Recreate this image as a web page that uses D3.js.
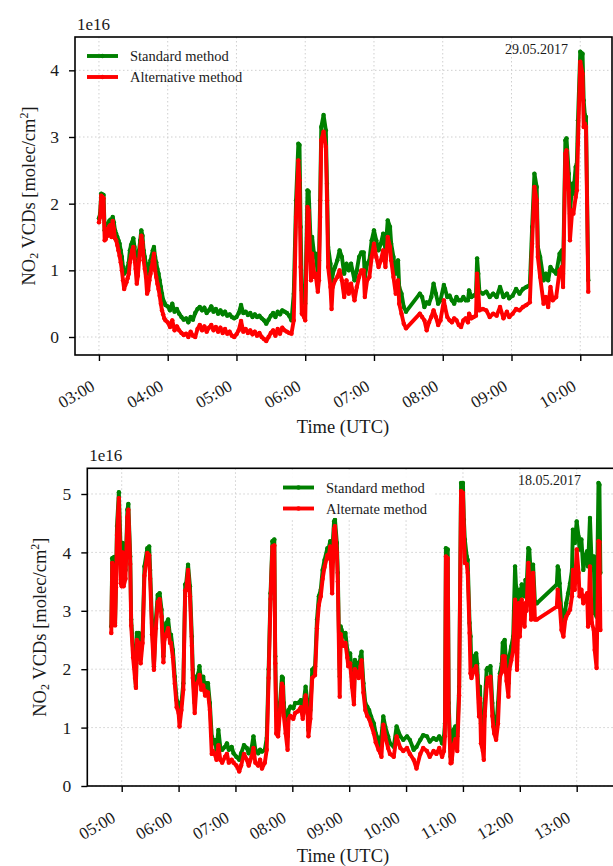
<!DOCTYPE html>
<html>
<head>
<meta charset="utf-8">
<script src="https://cdn.jsdelivr.net/npm/d3@7"></script>
<style>
  html, body { margin: 0; padding: 0; background: #fff; }
  svg { display: block; font-family: "Liberation Serif", "Times New Roman", serif; }
</style>
</head>
<body>
<svg id="chart" width="613" height="866"></svg>
<script>
// ---------- 29.05.2017 : NO2 VCDs (units of 1e16 molec/cm^2) ----------
const topTimes = [
  "03:00","03:01","03:02","03:03","03:04","03:05","03:06","03:07","03:08","03:09",
  "03:10","03:11","03:12","03:13","03:14","03:15","03:16","03:17","03:18","03:19",
  "03:20","03:21","03:22","03:23","03:24","03:25","03:26","03:27","03:28","03:29",
  "03:30","03:31","03:32","03:33","03:34","03:35","03:36","03:37","03:38","03:39",
  "03:40","03:41","03:42","03:43","03:44","03:45","03:46","03:47","03:48","03:49",
  "03:50","03:51","03:52","03:53","03:54","03:55","03:56","03:57","03:58",
  "04:00","04:02","04:04","04:06","04:08","04:10","04:12","04:14","04:16","04:18",
  "04:20","04:22","04:24","04:26","04:28","04:30","04:32","04:34","04:36","04:38",
  "04:40","04:42","04:44","04:46","04:48","04:50","04:52","04:54","04:56","04:58",
  "05:00","05:02","05:04","05:06","05:08","05:10","05:12","05:14","05:16","05:18",
  "05:20","05:22","05:24","05:26","05:28","05:30","05:32","05:34","05:36","05:38",
  "05:40","05:42","05:44","05:46","05:48","05:50","05:52","05:54","05:55","05:56",
  "05:57","05:59","06:00","06:02","06:03","06:05","06:06","06:08","06:09","06:11",
  "06:12","06:13","06:14","06:16","06:18","06:19","06:20","06:22","06:23","06:24",
  "06:26","06:28","06:30","06:32","06:34","06:36","06:38","06:40","06:43","06:45",
  "06:47","06:49","06:51","06:52","06:54","06:56","06:58","07:00","07:02","07:04",
  "07:06","07:08","07:10","07:12","07:14","07:15","07:17","07:19","07:21","07:22",
  "07:24","07:26","07:28","07:40","07:42","07:44","07:46","07:48","07:50","07:52",
  "07:54","07:56","07:58","08:01","08:02","08:04","08:06","08:08","08:10","08:12",
  "08:14","08:16","08:18","08:20","08:22","08:23","08:25","08:27","08:29","08:30",
  "08:31","08:32","08:35","08:38","08:41","08:44","08:47","08:50","08:53","08:56",
  "08:58","09:01","09:04","09:07","09:10","09:13","09:16","09:18","09:20","09:22",
  "09:23","09:25","09:28","09:30","09:32","09:34","09:36","09:39","09:42","09:44",
  "09:45","09:47","09:48","09:50","09:51","09:53","09:54","09:56","09:57","09:58",
  "10:00","10:02","10:03","10:04","10:05","10:07"
];
const topStandard = [
  1.78,1.85,2.15,2.14,2.13,1.60,1.55,1.70,1.62,1.74,
  1.76,1.65,1.80,1.72,1.60,1.55,1.50,1.45,1.40,1.30,
  1.20,1.05,0.95,1.00,0.98,1.05,1.12,1.30,1.38,1.42,
  1.48,1.35,1.22,1.05,1.12,1.30,1.45,1.60,1.52,1.30,
  1.20,1.10,0.98,0.95,1.08,1.15,1.22,1.30,1.35,1.20,
  1.12,1.02,0.95,0.85,0.75,0.65,0.56,0.52,0.48,
  0.46,0.40,0.50,0.38,0.42,0.35,0.30,0.26,0.28,0.22,
  0.30,0.26,0.36,0.42,0.45,0.40,0.44,0.36,0.40,0.46,
  0.38,0.42,0.35,0.40,0.34,0.38,0.32,0.34,0.30,0.28,
  0.30,0.36,0.48,0.36,0.38,0.33,0.36,0.30,0.34,0.30,
  0.32,0.28,0.25,0.20,0.26,0.32,0.36,0.30,0.38,0.34,
  0.40,0.38,0.36,0.32,0.25,0.65,2.05,2.90,2.88,1.65,
  0.70,0.55,0.50,2.20,2.18,1.30,1.50,1.20,1.25,0.95,
  1.15,2.05,3.15,3.33,3.10,2.30,1.35,1.10,0.75,0.95,
  1.05,1.15,1.30,1.20,0.95,1.10,1.00,1.10,0.85,1.00,
  1.20,1.27,1.27,0.90,1.10,1.15,1.45,1.60,1.45,1.30,
  1.40,1.55,1.30,1.75,1.65,1.40,1.20,0.95,1.15,0.75,
  0.65,0.45,0.38,0.65,0.60,0.45,0.52,0.50,0.60,0.80,
  0.65,0.50,0.55,0.78,0.72,0.60,0.62,0.55,0.50,0.60,
  0.55,0.55,0.60,0.55,0.55,0.70,0.60,0.62,0.65,1.18,
  0.95,0.68,0.65,0.68,0.60,0.65,0.60,0.75,0.60,0.65,
  0.58,0.62,0.72,0.65,0.72,0.75,0.78,1.65,2.45,2.25,
  1.35,1.20,0.85,0.95,0.85,1.05,1.00,0.95,1.25,1.30,
  0.95,2.95,2.98,2.45,1.85,2.30,2.15,2.55,2.60,3.25,
  4.28,4.25,3.55,3.33,3.30,0.85
];
const topAlternative = [
  1.72,1.80,2.12,2.10,2.08,1.45,1.47,1.62,1.52,1.66,
  1.68,1.50,1.74,1.62,1.48,1.45,1.38,1.30,1.22,1.12,
  1.00,0.85,0.72,0.78,0.82,0.88,0.95,1.12,1.22,1.30,
  1.35,1.18,1.02,0.80,0.92,1.15,1.35,1.52,1.42,1.15,
  1.02,0.90,0.65,0.70,0.85,0.95,1.05,1.15,1.25,1.00,
  0.90,0.80,0.72,0.62,0.50,0.40,0.34,0.28,0.25,
  0.22,0.15,0.25,0.10,0.16,0.10,0.06,0.03,0.05,0.00,
  0.08,0.02,0.00,0.12,0.18,0.10,0.16,0.08,0.14,0.18,
  0.10,0.15,0.08,0.14,0.06,0.12,0.05,0.08,0.02,0.00,
  0.04,0.10,0.24,0.08,0.12,0.06,0.10,0.04,0.08,0.02,
  0.06,0.00,-0.03,-0.06,0.00,0.06,0.10,0.02,0.12,0.05,
  0.14,0.10,0.08,0.06,0.05,0.25,1.80,2.65,2.35,1.05,
  0.35,0.30,0.25,1.95,1.90,0.85,1.25,0.90,0.95,0.68,
  0.85,1.80,2.95,3.08,2.85,2.05,1.05,0.75,0.42,0.75,
  0.85,0.90,1.00,0.85,0.60,0.85,0.65,0.80,0.55,0.75,
  0.90,1.00,1.00,0.60,0.85,0.90,1.20,1.40,1.20,1.05,
  1.15,1.30,1.05,1.50,1.35,1.15,0.90,0.65,0.85,0.50,
  0.35,0.20,0.13,0.35,0.30,0.25,0.10,0.22,0.30,0.40,
  0.30,0.18,0.25,0.55,0.45,0.30,0.25,0.22,0.28,0.25,
  0.18,0.15,0.25,0.28,0.22,0.35,0.28,0.30,0.32,0.95,
  0.70,0.40,0.42,0.40,0.30,0.35,0.32,0.45,0.28,0.38,
  0.30,0.35,0.42,0.40,0.45,0.48,0.52,1.40,2.25,2.05,
  1.20,0.90,0.50,0.60,0.45,0.75,0.55,0.60,1.00,1.05,
  0.75,2.75,2.80,2.20,1.45,1.90,1.85,2.10,2.20,2.90,
  4.13,3.95,3.15,3.20,3.15,0.68
];

// ---------- 18.05.2017 : NO2 VCDs (units of 1e16 molec/cm^2) ----------
const bottomTimes = [
  "04:49","04:50","04:52","04:53","04:54","04:55","04:57","04:59","05:00","05:01",
  "05:02","05:04","05:06","05:07","05:09","05:10","05:12","05:14","05:15","05:16",
  "05:18","05:20","05:22","05:24","05:27","05:29","05:30","05:32","05:34","05:36",
  "05:38","05:40","05:42","05:44","05:45","05:47","05:49","05:51","05:52","05:54",
  "05:56","05:58","06:00","06:01","06:03","06:05","06:07","06:08","06:10","06:12",
  "06:14","06:15","06:17","06:19","06:21","06:22","06:24","06:26","06:28","06:29",
  "06:31","06:33","06:35","06:36","06:38","06:40","06:42","06:44","06:46","06:49",
  "06:51","06:53","06:56","06:58","07:01","07:04","07:06","07:09","07:12","07:14",
  "07:17","07:19","07:21","07:24","07:26","07:28","07:31","07:33","07:35","07:37",
  "07:39","07:41","07:42","07:43","07:45","07:47","07:49","07:50","07:51","07:53",
  "07:55","07:56","07:58","08:01","08:03","08:06","08:09","08:11","08:14","08:16",
  "08:17","08:19","08:21","08:24","08:26","08:28","08:30","08:32","08:34","08:37",
  "08:38","08:40","08:42","08:44","08:45","08:47","08:48","08:50","08:51","08:52",
  "08:54","08:56","08:58","08:59","09:01","09:03","09:05","09:06","09:08","09:10",
  "09:12","09:13","09:15","09:17","09:19","09:21","09:23","09:26","09:28","09:31",
  "09:33","09:34","09:36","09:38","09:41","09:43","09:47","09:50","09:54","09:57",
  "10:01","10:04","10:08","10:11","10:15","10:18","10:22","10:25","10:29","10:32",
  "10:35","10:38","10:40","10:41","10:42","10:44","10:45","10:47","10:48","10:50",
  "10:52","10:54","10:56","10:58","11:00","11:01","11:02","11:04","11:05","11:07",
  "11:08","11:09","11:11","11:12","11:14","11:15","11:17","11:18","11:19","11:21",
  "11:22","11:23","11:25","11:26","11:28","11:29","11:31","11:32","11:33","11:35",
  "11:37","11:39","11:41","11:42","11:44","11:46","11:48","11:49","11:51","11:53",
  "11:55","11:56","11:57","11:59","12:00","12:02","12:03","12:05","12:06","12:07",
  "12:09","12:10","12:12","12:13","12:14","12:16","12:18","12:39","12:40","12:41",
  "12:42","12:44","12:46","12:48","12:49","12:51","12:53","12:55","12:56","12:58",
  "13:00","13:02","13:03","13:05","13:07","13:09","13:11","13:12","13:14","13:16",
  "13:18","13:19","13:21","13:23","13:24","13:25"
];
const bottomStandard = [
  2.73,3.90,3.92,2.79,3.53,4.45,5.03,4.00,3.47,4.16,
  3.53,3.70,4.73,4.83,3.93,2.85,2.33,1.99,1.70,2.62,
  2.62,2.22,2.56,3.76,4.07,4.10,3.70,2.79,2.05,2.85,
  3.27,3.30,3.02,2.22,2.62,2.79,2.85,2.56,2.59,2.33,
  1.87,1.47,1.42,1.19,1.42,1.76,3.45,3.47,3.79,3.42,
  2.56,1.99,1.42,1.87,1.93,2.05,1.76,1.87,1.65,1.76,
  1.76,1.42,0.85,0.73,0.79,0.62,0.96,0.67,0.62,0.67,
  0.73,0.62,0.67,0.56,0.50,0.45,0.56,0.70,0.65,0.56,
  0.65,0.85,0.62,0.56,0.62,0.59,0.62,0.82,2.00,3.30,
  4.19,4.22,2.22,1.30,0.96,1.42,1.87,1.85,1.42,1.07,
  0.85,1.30,1.36,1.33,1.42,1.42,1.47,1.30,1.70,1.42,
  0.96,1.30,1.99,2.05,2.85,3.25,3.36,3.70,3.87,4.07,
  4.05,4.19,3.99,4.53,4.56,4.16,3.65,1.87,2.73,2.67,
  2.56,2.62,2.33,2.22,2.27,1.87,1.53,2.16,2.10,1.99,
  2.22,2.30,1.76,1.42,1.36,1.30,1.19,1.07,0.90,0.79,
  0.67,0.85,1.19,1.02,0.85,0.73,0.67,1.02,0.85,0.79,
  0.85,0.79,0.62,0.67,0.79,0.87,0.85,0.76,0.82,0.79,
  0.85,0.73,0.85,1.07,4.07,4.05,1.42,0.50,0.45,0.96,
  1.02,0.85,1.70,5.19,5.19,4.56,4.22,3.93,3.87,2.79,
  2.56,1.99,2.10,2.22,2.27,2.10,1.42,1.70,1.07,0.73,
  0.95,1.42,1.99,2.02,1.99,2.05,1.42,1.19,1.07,0.96,
  1.42,1.93,2.10,2.45,2.50,1.99,1.76,2.22,2.39,2.56,
  3.76,3.42,3.13,3.36,3.02,3.45,3.36,3.25,3.53,3.36,
  4.07,4.05,3.53,3.70,3.79,3.13,3.13,3.45,3.76,3.70,
  3.47,2.96,2.79,3.02,3.13,3.30,3.47,3.70,4.39,4.16,
  4.53,4.27,4.05,4.22,3.70,3.93,4.02,3.76,4.59,3.70,
  3.93,2.96,2.90,5.19,5.16,3.65
];
const bottomAlternate = [
  2.62,3.82,3.70,2.75,3.40,4.30,4.93,3.47,3.42,4.00,
  3.42,3.55,4.60,4.73,3.80,2.75,2.20,1.85,1.68,2.50,
  2.45,2.10,2.45,3.60,3.99,3.95,3.55,2.60,1.99,2.70,
  3.15,3.20,2.90,2.12,2.50,2.60,2.70,2.45,2.45,2.20,
  1.75,1.35,1.25,1.02,1.30,1.65,3.35,3.35,3.70,3.25,
  2.40,1.85,1.25,1.75,1.80,1.90,1.65,1.72,1.55,1.62,
  1.60,1.30,0.55,0.60,0.55,0.45,0.70,0.45,0.40,0.50,
  0.55,0.40,0.45,0.40,0.35,0.25,0.35,0.55,0.45,0.35,
  0.50,0.65,0.40,0.35,0.45,0.30,0.40,0.62,1.85,3.20,
  4.10,4.12,2.10,0.90,0.85,1.30,1.75,1.70,1.20,0.90,
  0.62,1.15,1.20,1.15,1.25,1.28,1.35,1.15,1.55,1.25,
  0.85,1.15,1.85,1.90,2.70,3.10,3.25,3.55,3.75,3.95,
  3.90,4.10,3.30,4.40,4.45,4.00,3.50,1.53,2.60,2.50,
  2.40,2.45,2.20,2.05,2.10,1.70,1.40,2.00,1.95,1.85,
  2.05,2.15,1.60,1.30,1.20,1.15,1.05,0.90,0.75,0.62,
  0.56,0.50,1.05,0.85,0.65,0.55,0.50,0.85,0.65,0.60,
  0.65,0.55,0.45,0.30,0.55,0.65,0.60,0.50,0.60,0.55,
  0.65,0.50,0.60,0.85,3.93,3.90,1.20,0.39,0.40,0.70,
  0.80,0.60,1.55,5.05,5.02,4.40,3.82,3.80,3.65,2.62,
  1.93,1.85,1.95,1.99,2.05,1.90,1.19,1.50,0.73,0.60,
  0.45,1.20,1.70,1.85,1.80,1.87,1.20,1.02,0.90,0.79,
  1.07,1.87,1.95,2.22,2.22,1.80,1.53,1.99,2.15,2.33,
  3.19,2.80,1.99,3.13,2.56,3.19,3.00,2.73,3.13,3.00,
  3.82,3.53,2.85,3.25,3.65,2.85,2.85,3.07,3.36,3.20,
  3.13,2.67,2.56,2.85,2.90,2.96,3.02,3.25,3.70,3.36,
  4.05,3.65,3.25,3.36,3.13,3.25,3.30,2.73,3.76,2.79,
  2.67,2.33,2.02,4.19,4.18,2.67
];

// Axis tick labels
const topXTicks = ["03:00","04:00","05:00","06:00","07:00","08:00","09:00","10:00"];
const topYTicks = [0, 1, 2, 3, 4];
const bottomXTicks = ["05:00","06:00","07:00","08:00","09:00","10:00","11:00","12:00","13:00"];
const bottomYTicks = [0, 1, 2, 3, 4, 5];

const GREEN = "#008000";
const RED = "#ff0000";
const TEXT = "#1a1a1a";

const svg = d3.select("#chart");
const parseHM = d3.timeParse("%H:%M");
const parseHMS = d3.timeParse("%H:%M:%S");

function drawPanel(p) {
  const x = d3.scaleTime().domain(p.xDomain.map(parseHMS)).range([p.left, p.right]);
  const y = d3.scaleLinear().domain(p.yDomain).range([p.bottom, p.top]);
  const g = svg.append("g");
  const clipId = p.id + "-clip";
  g.append("clipPath").attr("id", clipId)
    .append("rect")
    .attr("x", p.left).attr("y", p.top)
    .attr("width", p.right - p.left).attr("height", p.bottom - p.top);

  const xt = p.xTicks.map(parseHM);

  // dotted grid
  const grid = g.append("g").attr("stroke", "#cfcfcf").attr("stroke-width", 1)
    .attr("stroke-dasharray", "1.5,2.5");
  grid.selectAll("line.v").data(xt).join("line").attr("class", "v")
    .attr("x1", d => x(d)).attr("x2", d => x(d))
    .attr("y1", p.top).attr("y2", p.bottom);
  grid.selectAll("line.h").data(p.yTicks).join("line").attr("class", "h")
    .attr("x1", p.left).attr("x2", Math.min(p.right, 613))
    .attr("y1", d => y(d)).attr("y2", d => y(d));

  // series
  const times = p.times.map(parseHM);
  const line = d3.line().x(d => x(d.t)).y(d => y(d.v));
  const plot = g.append("g").attr("clip-path", `url(#${clipId})`);
  p.series.forEach(s => {
    const pts = s.values.map((v, i) => ({ t: times[i], v }));
    plot.append("path").datum(pts)
      .attr("d", line)
      .attr("fill", "none")
      .attr("stroke", s.color)
      .attr("stroke-width", 3.9)
      .attr("stroke-linejoin", "round")
      .attr("stroke-linecap", "round");
    plot.append("g").selectAll("circle").data(pts).join("circle")
      .attr("cx", d => x(d.t)).attr("cy", d => y(d.v))
      .attr("r", 2.2).attr("fill", s.color);
  });

  // legend
  const lg = g.append("g");
  if (p.legendBox) {
    lg.append("rect")
      .attr("x", p.legendBox[0]).attr("y", p.legendBox[1])
      .attr("width", p.legendBox[2]).attr("height", p.legendBox[3])
      .attr("fill", "#fff").attr("fill-opacity", 0.9);
  }
  p.series.forEach((s, i) => {
    const ly = p.legendY + i * 21;
    lg.append("line")
      .attr("x1", p.legendX).attr("x2", p.legendX + 31)
      .attr("y1", ly).attr("y2", ly)
      .attr("stroke", s.color).attr("stroke-width", 3.9);
    lg.append("circle").attr("cx", p.legendX + 15.5).attr("cy", ly).attr("r", 2.2).attr("fill", s.color);
    lg.append("text")
      .attr("x", p.legendX + 43).attr("y", ly + 5)
      .attr("font-size", 14.5).attr("fill", TEXT)
      .text(s.name);
  });

  // date annotation
  g.append("text")
    .attr("x", p.dateX).attr("y", p.dateY)
    .attr("font-size", 14).attr("fill", TEXT)
    .text(p.date);

  // frame
  g.append("rect")
    .attr("x", p.left).attr("y", p.top)
    .attr("width", p.right - p.left).attr("height", p.bottom - p.top)
    .attr("fill", "none").attr("stroke", "#000").attr("stroke-width", 1.6);

  // x axis
  const xAxis = d3.axisBottom(x).tickValues(xt)
    .tickFormat(d3.timeFormat("%H:%M")).tickSize(6).tickSizeOuter(0);
  const ax = g.append("g").attr("transform", `translate(0,${p.bottom})`).call(xAxis);
  ax.attr("font-family", null).attr("font-size", null);
  ax.select(".domain").remove();
  ax.selectAll(".tick line").attr("stroke", "#000").attr("stroke-width", 1.4);
  ax.selectAll(".tick text")
    .attr("y", null).attr("dy", null)
    .attr("transform", `translate(${p.xLabelDx},${p.xLabelDy}) rotate(-30)`)
    .attr("text-anchor", "end")
    .attr("font-size", 17).attr("fill", TEXT);

  // y axis
  const yAxis = d3.axisLeft(y).tickValues(p.yTicks).tickFormat(d3.format("d"))
    .tickSize(6).tickSizeOuter(0).tickPadding(10);
  const ay = g.append("g").attr("transform", `translate(${p.left},0)`).call(yAxis);
  ay.attr("font-family", null).attr("font-size", null);
  ay.select(".domain").remove();
  ay.selectAll(".tick line").attr("stroke", "#000").attr("stroke-width", 1.4);
  ay.selectAll(".tick text").attr("font-size", 17.5).attr("fill", TEXT);

  // offset text
  g.append("text").attr("x", p.left + 2).attr("y", p.top - 7)
    .attr("font-size", 17).attr("fill", TEXT).text("1e16");

  // y label
  const yl = g.append("text")
    .attr("transform", `translate(${p.yLabelX},${(p.top + p.bottom) / 2}) rotate(-90)`)
    .attr("text-anchor", "middle").attr("font-size", 18.5).attr("fill", TEXT);
  yl.append("tspan").text("NO");
  yl.append("tspan").attr("font-size", 12).attr("baseline-shift", "-25%").text("2");
  yl.append("tspan").text(" VCDs [molec/cm");
  yl.append("tspan").attr("font-size", 12).attr("baseline-shift", "55%").text("2");
  yl.append("tspan").text("]");

  // x label
  g.append("text")
    .attr("x", p.xLabelX).attr("y", p.xLabelY)
    .attr("text-anchor", "middle").attr("font-size", 18.5).attr("fill", TEXT)
    .text("Time (UTC)");
}

drawPanel({
  id: "top",
  left: 75, right: 612, top: 37, bottom: 355,
  xDomain: ["02:39:06", "10:27:42"],
  yDomain: [-0.27, 4.5],
  xTicks: topXTicks, yTicks: topYTicks,
  times: topTimes,
  series: [
    { name: "Standard method", color: GREEN, values: topStandard },
    { name: "Alternative method", color: RED, values: topAlternative }
  ],
  legendX: 87, legendY: 56, legendBox: null,
  date: "29.05.2017", dateX: 505, dateY: 54,
  xLabelDx: -3.5, xLabelDy: 34.5,
  yLabelX: 35, xLabelX: 343, xLabelY: 433
});

drawPanel({
  id: "bottom",
  left: 87.3, right: 616.5, top: 468.3, bottom: 786,
  xDomain: ["04:23:42", "13:42:00"],
  yDomain: [0, 5.44],
  xTicks: bottomXTicks, yTicks: bottomYTicks,
  times: bottomTimes,
  series: [
    { name: "Standard method", color: GREEN, values: bottomStandard },
    { name: "Alternate method", color: RED, values: bottomAlternate }
  ],
  legendX: 283, legendY: 487.5, legendBox: [277, 472, 156, 46],
  date: "18.05.2017", dateX: 518, dateY: 485,
  xLabelDx: -5.5, xLabelDy: 35,
  yLabelX: 46, xLabelX: 343, xLabelY: 862
});
</script>
</body>
</html>
